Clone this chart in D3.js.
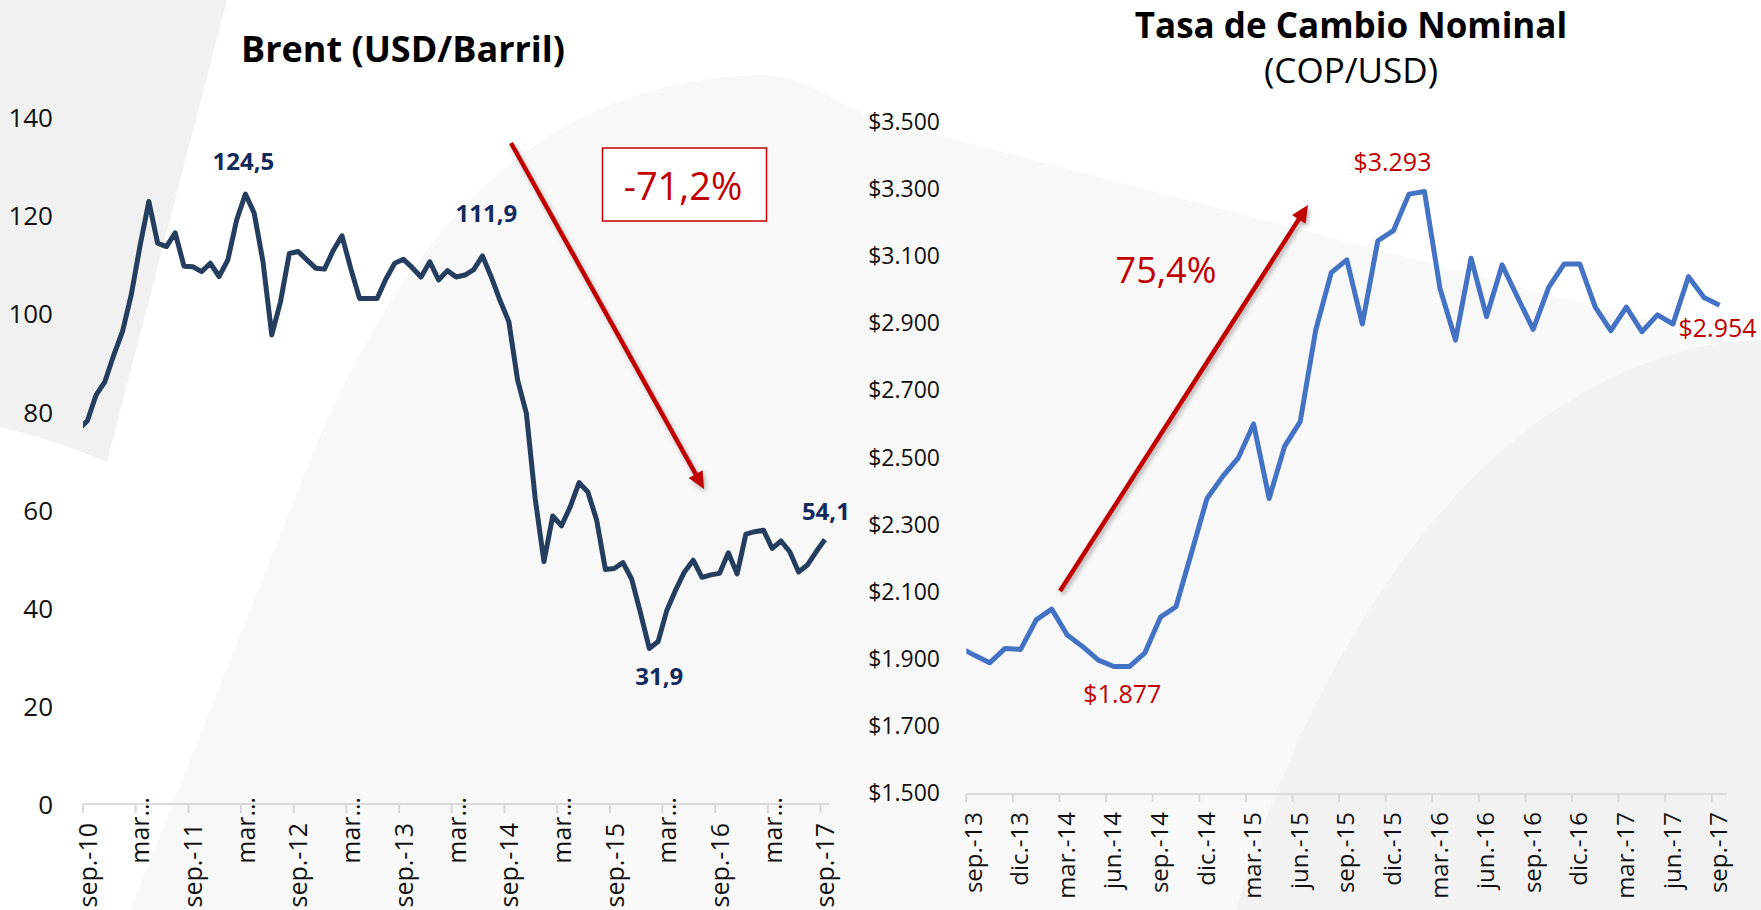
<!DOCTYPE html>
<html>
<head>
<meta charset="utf-8">
<script src="https://cdn.jsdelivr.net/npm/d3@7"></script>
<style>
html,body{margin:0;padding:0;background:#ffffff;}
svg{display:block;font-family:'Open Sans','DejaVu Sans',sans-serif;}
</style>
</head>
<body>
<svg id="chart" width="1761" height="910"></svg>
<script>
// ---------------- DATA ----------------
// Brent monthly (USD/barrel), Aug-10 .. Sep-17 (first value lies just before the axis start and is clipped)
const brentFirstMonth = "2010-08";
const brentValues = [
  76.5, 78.3, 83.6, 86.3, 91.7,
  96.5, 104.0, 114.0, 123.0, 114.5, 113.8, 116.6, 109.8, 109.7, 108.7, 110.4, 107.7,
  111.1, 119.2, 124.5, 120.6, 110.7, 95.8, 102.6, 112.4, 112.8, 111.1, 109.4, 109.2,
  113.0, 116.0, 109.3, 103.2, 103.2, 103.2, 107.2, 110.4, 111.2, 109.5, 107.6, 110.7,
  107.0, 108.9, 107.6, 108.0, 109.1, 111.9, 107.6, 102.8, 98.5, 86.6, 79.8, 62.5,
  49.6, 58.9, 56.9, 60.8, 65.7, 63.8, 58.1, 48.0, 48.2, 49.4, 46.0, 39.1,
  31.9, 33.3, 39.7, 43.8, 47.5, 49.9, 46.4, 46.9, 47.2, 51.4, 47.1, 55.2,
  55.7, 56.0, 52.3, 53.8, 51.6, 47.5, 48.9, 51.6, 54.1
];
const brentAxisStart = "2010-09";
const brentAxisMonths = 85;
const brentTickStep = 6;
const brentTickLabels = ["sep.-10","mar…","sep.-11","mar…","sep.-12","mar…","sep.-13","mar…",
  "sep.-14","mar…","sep.-15","mar…","sep.-16","mar…","sep.-17"];
const brentYTicks = [0, 20, 40, 60, 80, 100, 120, 140];
const brentLabelMonths = ["2012-03", "2014-06", "2016-01", "2017-09"];
const brentLabelTexts = ["124,5", "111,9", "31,9", "54,1"];

// COP/USD monthly, Aug-13 .. Sep-17 (first value clipped at axis start)
const copFirstMonth = "2013-08";
const copValues = [
  1936, 1911, 1888, 1931, 1928,
  2016, 2048, 1971, 1936, 1896, 1877, 1877, 1918, 2024, 2055, 2216, 2378,
  2443, 2498, 2600, 2378, 2534, 2607, 2880, 3051, 3089, 2898, 3146, 3176,
  3285, 3293, 3004, 2850, 3094, 2920, 3074, 2977, 2882, 3007, 3077, 3077,
  2948, 2878, 2948, 2875, 2925, 2898, 3039, 2977, 2954
];
const copAxisStart = "2013-09";
const copAxisMonths = 49;
const copTickStep = 3;
const copTickLabels = ["sep.-13","dic.-13","mar.-14","jun.-14","sep.-14","dic.-14","mar.-15","jun.-15",
  "sep.-15","dic.-15","mar.-16","jun.-16","sep.-16","dic.-16","mar.-17","jun.-17","sep.-17"];
const copYTicks = [1500, 1700, 1900, 2100, 2300, 2500, 2700, 2900, 3100, 3300, 3500];
const copLabelMonths = ["2014-07", "2016-02", "2017-09"];
const copLabelTexts = ["$1.877", "$3.293", "$2.954"];

// ---------------- HELPERS ----------------
const monthNum = s => { const [y, m] = s.split("-").map(Number); return y * 12 + (m - 1); };
const esLocale = d3.formatLocale({decimal: ",", thousands: ".", grouping: [3], currency: ["$", ""]});
const fmtCop = esLocale.format("$,.0f");

const svg = d3.select("#chart");
const defs = svg.append("defs");
const shadow = defs.append("filter").attr("id", "shadow").attr("x", "-20%").attr("y", "-20%").attr("width", "140%").attr("height", "140%");
shadow.append("feDropShadow").attr("dx", 2).attr("dy", 3).attr("stdDeviation", 2)
  .attr("flood-color", "#000").attr("flood-opacity", 0.28);

// ---------------- BACKGROUND (slide decoration) ----------------
const bg = svg.append("g");
bg.append("rect").attr("width", 1761).attr("height", 910).attr("fill", "#ffffff");
bg.append("path").attr("d", "M130,910 L314,450 C420,200 560,80 760,75 C805,75 840,105 870,117 L1761,350 L1761,910 Z")
  .attr("fill", "#f8f8f8");
bg.append("path").attr("d", "M0,0 L227,0 L107,462 Q55,440 0,427 Z").attr("fill", "#f1f1f1");
bg.append("path").attr("d", "M1236,910 C1290,720 1400,520 1540,420 C1620,365 1690,342 1761,340 L1761,910 Z")
  .attr("fill", "#f2f2f2");

// ---------------- LEFT CHART: BRENT ----------------
const bx = d3.scaleLinear().domain([0, brentAxisMonths]).range([83, 829.3]);
const by = d3.scaleLinear().domain([0, 140]).range([805, 118]);
const bOff = monthNum(brentFirstMonth) - monthNum(brentAxisStart);
const bPos = i => i + bOff + 0.5;

const left = svg.append("g");
defs.append("clipPath").attr("id", "clipL").append("rect")
  .attr("x", bx(0)).attr("y", 0).attr("width", bx(brentAxisMonths) - bx(0)).attr("height", 910);

left.append("text").attr("x", 403).attr("y", 62).attr("text-anchor", "middle")
  .attr("font-size", 36).attr("font-weight", 700).attr("fill", "#000").text("Brent (USD/Barril)");

left.selectAll("text.yl").data(brentYTicks).join("text").attr("class", "yl")
  .attr("x", 53).attr("y", d => by(d)).attr("dy", "0.35em").attr("text-anchor", "end")
  .attr("font-size", 26).attr("fill", "#111").text(d => d);

left.append("line").attr("x1", bx(0)).attr("x2", bx(brentAxisMonths))
  .attr("y1", by(0) - 1).attr("y2", by(0) - 1).attr("stroke", "#d9d9d9").attr("stroke-width", 2);
const bTicks = brentTickLabels.map((t, j) => ({m: j * brentTickStep, t}));
left.selectAll("line.tk").data(bTicks).join("line").attr("class", "tk")
  .attr("x1", d => bx(d.m)).attr("x2", d => bx(d.m)).attr("y1", by(0) - 1).attr("y2", by(0) + 8)
  .attr("stroke", "#d9d9d9").attr("stroke-width", 2);
left.selectAll("text.xl").data(bTicks).join("text").attr("class", "xl")
  .attr("transform", d => `translate(${bx(d.m) + 5},${d.t.includes("…") ? 797 : 823}) rotate(-90)`)
  .attr("dy", "0.35em").attr("text-anchor", "end").attr("font-size", 25).attr("fill", "#111").text(d => d.t);

left.append("path").datum(brentValues).attr("clip-path", "url(#clipL)")
  .attr("fill", "none").attr("stroke", "#253e60").attr("stroke-width", 5).attr("stroke-linejoin", "round")
  .attr("d", d3.line().x((d, i) => bx(bPos(i))).y(d => by(d)));

const bLabelOffsets = [[-2, -24], [4, -34], [10, 36.5], [1, -19.5]];
brentLabelMonths.forEach((m, k) => {
  const i = monthNum(m) - monthNum(brentFirstMonth);
  left.append("text").attr("x", bx(bPos(i)) + bLabelOffsets[k][0]).attr("y", by(brentValues[i]) + bLabelOffsets[k][1])
    .attr("text-anchor", "middle").attr("font-size", 24).attr("font-weight", 700).attr("fill", "#14295c")
    .text(brentLabelTexts[k]);
});

// ---------------- RIGHT CHART: COP/USD ----------------
const cx = d3.scaleLinear().domain([0, copAxisMonths]).range([966.3, 1727.3]);
const cy = d3.scaleLinear().domain([1500, 3500]).range([793, 122]);
const cOff = monthNum(copFirstMonth) - monthNum(copAxisStart);
const cPos = i => i + cOff + 0.5;

const right = svg.append("g");
defs.append("clipPath").attr("id", "clipR").append("rect")
  .attr("x", cx(0)).attr("y", 0).attr("width", cx(copAxisMonths) - cx(0)).attr("height", 910);

right.append("text").attr("x", 1351).attr("y", 38).attr("text-anchor", "middle")
  .attr("font-size", 35).attr("font-weight", 700).attr("fill", "#000").text("Tasa de Cambio Nominal");
right.append("text").attr("x", 1351).attr("y", 83).attr("text-anchor", "middle")
  .attr("font-size", 35).attr("fill", "#000").text("(COP/USD)");

right.selectAll("text.yl").data(copYTicks).join("text").attr("class", "yl")
  .attr("x", 940).attr("y", d => cy(d)).attr("dy", "0.35em").attr("text-anchor", "end")
  .attr("font-size", 23).attr("fill", "#111").text(d => fmtCop(d));

right.append("line").attr("x1", cx(0)).attr("x2", cx(copAxisMonths))
  .attr("y1", cy(1500) + 1).attr("y2", cy(1500) + 1).attr("stroke", "#d9d9d9").attr("stroke-width", 2);
const cTicks = copTickLabels.map((t, j) => ({m: j * copTickStep, t}));
right.selectAll("line.tk").data(cTicks).join("line").attr("class", "tk")
  .attr("x1", d => cx(d.m)).attr("x2", d => cx(d.m)).attr("y1", cy(1500) + 1).attr("y2", cy(1500) + 9)
  .attr("stroke", "#d9d9d9").attr("stroke-width", 2);
right.selectAll("text.xl").data(cTicks).join("text").attr("class", "xl")
  .attr("transform", d => `translate(${cx(d.m) + 7},812) rotate(-90)`)
  .attr("dy", "0.35em").attr("text-anchor", "end").attr("font-size", 24).attr("fill", "#111").text(d => d.t);

right.append("path").datum(copValues).attr("clip-path", "url(#clipR)")
  .attr("fill", "none").attr("stroke", "#4472c4").attr("stroke-width", 5).attr("stroke-linejoin", "round")
  .attr("d", d3.line().x((d, i) => cx(cPos(i))).y(d => cy(d)));

const cLabelOffsets = [[-7, 36.5], [-32, -20], [-2, 32]];
copLabelMonths.forEach((m, k) => {
  const i = monthNum(m) - monthNum(copFirstMonth);
  right.append("text").attr("x", cx(cPos(i)) + cLabelOffsets[k][0]).attr("y", cy(copValues[i]) + cLabelOffsets[k][1])
    .attr("text-anchor", "middle").attr("font-size", 25).attr("fill", "#c00000").text(copLabelTexts[k]);
});

// ---------------- ANNOTATIONS ----------------
function arrow(g, x1, y1, x2, y2) {
  const a = Math.atan2(y2 - y1, x2 - x1), L = 17, W = 8;
  const ex = x2 - L * Math.cos(a), ey = y2 - L * Math.sin(a);
  const grp = g.append("g").attr("filter", "url(#shadow)");
  grp.append("line").attr("x1", x1).attr("y1", y1).attr("x2", ex + 2 * Math.cos(a)).attr("y2", ey + 2 * Math.sin(a))
    .attr("stroke", "#c00000").attr("stroke-width", 4.5);
  grp.append("path").attr("fill", "#c00000")
    .attr("d", `M${x2},${y2} L${ex - W * Math.sin(a)},${ey + W * Math.cos(a)} L${ex + W * Math.sin(a)},${ey - W * Math.cos(a)} Z`);
}
const ann = svg.append("g");
arrow(ann, 511, 143, 704, 489);
arrow(ann, 1060, 591, 1308, 205);
ann.append("rect").attr("x", 602.5).attr("y", 148).attr("width", 164).attr("height", 73)
  .attr("fill", "#ffffff").attr("stroke", "#c00000").attr("stroke-width", 1.5);
ann.append("text").attr("x", 683).attr("y", 200).attr("text-anchor", "middle")
  .attr("font-size", 38).attr("fill", "#c00000").text("-71,2%");
ann.append("text").attr("x", 1166).attr("y", 283).attr("text-anchor", "middle")
  .attr("font-size", 36).attr("fill", "#c00000").text("75,4%");
</script>
</body>
</html>
